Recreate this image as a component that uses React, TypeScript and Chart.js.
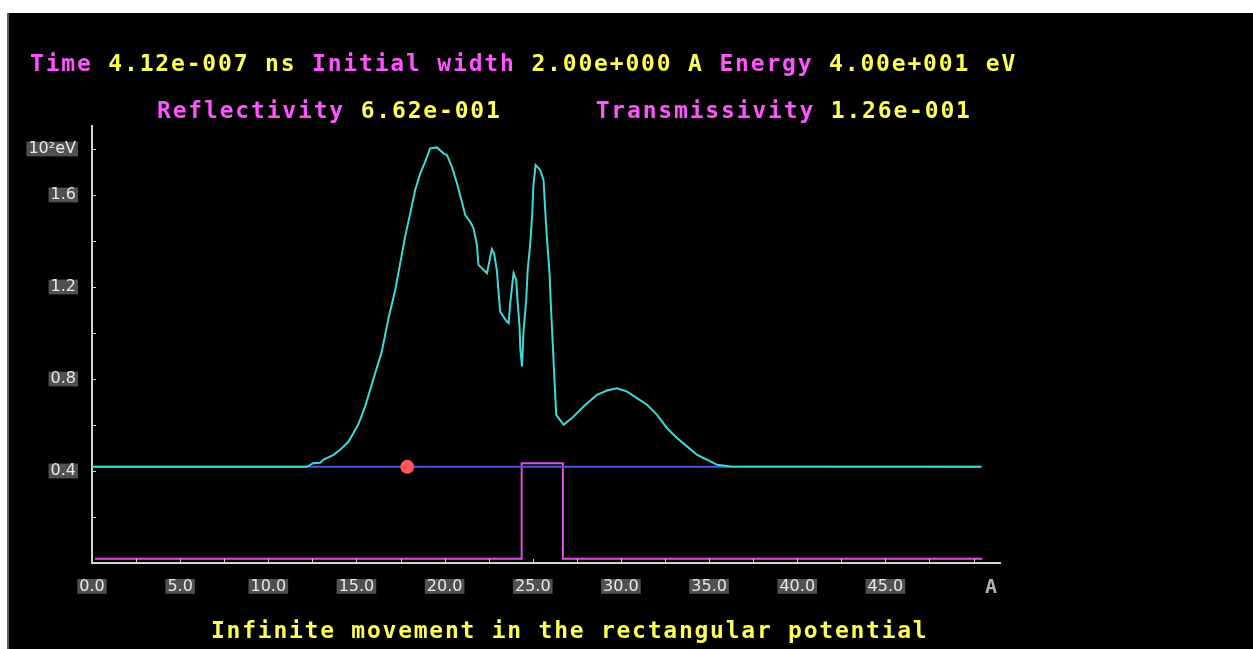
import { useEffect, useRef } from "react";
import { Chart, registerables } from "chart.js";

Chart.register(...registerables);

// Wave packet |psi|^2 drawn on top of the energy level (units of 10^2 eV), position in A
const waveX = [
  0, 12.19, 12.54, 12.94, 13.11, 13.7, 14.07, 14.55, 14.83, 15.11,
  15.49, 16.06, 16.44, 16.82, 17.2, 17.48, 17.76, 18.05, 18.33, 18.62,
  18.9, 19.18, 19.56, 19.94, 20.13, 20.41, 20.7, 20.98, 21.17, 21.45,
  21.64, 21.83, 21.92, 22.4, 22.59, 22.68, 22.81, 22.96, 23.15, 23.53,
  23.63, 23.72, 23.91, 24.06, 24.14, 24.25, 24.29, 24.39, 24.48, 24.63,
  24.71, 24.86, 24.97, 25.04, 25.16, 25.42, 25.61, 25.71, 25.81, 25.95,
  26.03, 26.14, 26.24, 26.33, 26.75, 27.22, 27.88, 28.64, 29.21, 29.78,
  30.35, 30.91, 31.48, 32.05, 32.62, 33.18, 33.75, 34.32, 34.89, 35.45,
  36.21, 50.45,
];
const waveY = [
  0.418, 0.418, 0.434, 0.436, 0.449, 0.47, 0.492, 0.528, 0.565, 0.604,
  0.68, 0.825, 0.92, 1.065, 1.187, 1.303, 1.419, 1.52, 1.622, 1.694,
  1.745, 1.803, 1.807, 1.781, 1.774, 1.723, 1.651, 1.571, 1.513, 1.484,
  1.455, 1.383, 1.296, 1.26, 1.332, 1.364, 1.344, 1.274, 1.093, 1.05,
  1.043, 1.129, 1.26, 1.231, 1.136, 1.028, 0.934, 0.854, 1.013, 1.144,
  1.274, 1.39, 1.52, 1.643, 1.73, 1.709, 1.665, 1.527, 1.404, 1.26,
  1.115, 0.941, 0.782, 0.644, 0.601, 0.63, 0.68, 0.731, 0.75, 0.76,
  0.745, 0.717, 0.688, 0.644, 0.586, 0.543, 0.507, 0.47, 0.449, 0.427,
  0.42, 0.418,
];

// Rectangular potential barrier
const potentialX = [0.17, 24.37, 24.37, 26.71, 26.71, 50.5];
const potentialY = [0.019, 0.019, 0.434, 0.434, 0.019, 0.019];

// Energy level line
const energyX = [0, 50.45];
const energyY = [0.418, 0.418];

// Classical particle position
const particleX = [17.88];
const particleY = [0.418];

// Axis labels and tick marks
const xLabelValues = [0, 5, 10, 15, 20, 25, 30, 35, 40, 45];
const xLabelTexts = ["0.0", "5.0", "10.0", "15.0", "20.0", "25.0", "30.0", "35.0", "40.0", "45.0"];
const xTickMarks = [2.5, 5, 7.5, 10, 12.5, 15, 17.5, 20, 22.5, 25, 27.5, 30, 32.5, 35, 37.5, 40, 42.5, 45, 47.5, 50];
const yLabelValues = [0.4, 0.8, 1.2, 1.6, 1.8];
const yLabelTexts = ["0.4", "0.8", "1.2", "1.6", "10²eV"];
const yTickMarks = [0.2, 0.4, 0.6, 0.8, 1.0, 1.2, 1.4, 1.6, 1.8];

const pts = (xs: number[], ys: number[]) => xs.map((x, i) => ({ x, y: ys[i] }));

const MAGENTA = "#ff55ff";
const YELLOW = "#ffff55";

const tickMarksPlugin = {
  id: "innerTickMarks",
  afterDraw(chart: any) {
    const { ctx, chartArea, scales } = chart;
    ctx.save();
    ctx.strokeStyle = "#d4d4d4";
    ctx.lineWidth = 1;
    ctx.beginPath();
    xTickMarks.forEach((v) => {
      const px = Math.round(scales.x.getPixelForValue(v)) + 0.5;
      ctx.moveTo(px, chartArea.bottom - 4);
      ctx.lineTo(px, chartArea.bottom);
    });
    yTickMarks.forEach((v) => {
      const py = Math.round(scales.y.getPixelForValue(v)) + 0.5;
      ctx.moveTo(chartArea.left, py);
      ctx.lineTo(chartArea.left + 4, py);
    });
    ctx.stroke();
    ctx.restore();
  },
};

const textBase: React.CSSProperties = {
  position: "absolute",
  fontFamily: "'DejaVu Sans Mono', monospace",
  fontWeight: "bold",
  fontSize: 23,
  lineHeight: "23px",
  letterSpacing: "1.82px",
  whiteSpace: "pre",
  margin: 0,
};

export default function App() {
  const canvasRef = useRef<HTMLCanvasElement | null>(null);

  useEffect(() => {
    if (!canvasRef.current) return;
    const tickFont = { family: "'DejaVu Sans', sans-serif", size: 16, lineHeight: 0.8 };
    const backdrop = { top: 1, bottom: 1, left: 2, right: 2 };
    const chart = new Chart(canvasRef.current, {
      type: "line",
      data: {
        datasets: [
          {
            label: "particle",
            data: pts(particleX, particleY),
            showLine: false,
            pointRadius: 7,
            pointBackgroundColor: "#ff5757",
            pointBorderWidth: 0,
            order: 0,
          },
          {
            label: "wave",
            data: pts(waveX, waveY),
            borderColor: "#3dd8d8",
            borderWidth: 2,
            pointRadius: 0,
            tension: 0,
            order: 1,
          },
          {
            label: "energy",
            data: pts(energyX, energyY),
            borderColor: "#5252dc",
            borderWidth: 2,
            pointRadius: 0,
            order: 2,
          },
          {
            label: "potential",
            data: pts(potentialX, potentialY),
            borderColor: "#dd50dd",
            borderWidth: 2,
            pointRadius: 0,
            order: 3,
          },
        ],
      },
      options: {
        animation: false,
        responsive: false,
        events: [],
        layout: { padding: { left: 0, top: 113, right: 253, bottom: 0 } },
        plugins: {
          legend: { display: false },
          tooltip: { enabled: false },
          title: { display: false },
        },
        scales: {
          x: {
            type: "linear",
            min: 0,
            max: 51.5,
            grid: { display: false },
            border: { display: true, color: "#d4d4d4", width: 2 },
            afterBuildTicks: (s: any) => {
              s.ticks = xLabelValues.map((value) => ({ value }));
            },
            afterFit: (s: any) => {
              s.height = 86;
            },
            ticks: {
              autoSkip: false,
              maxRotation: 0,
              padding: 9,
              color: "#e8e8e8",
              font: tickFont,
              showLabelBackdrop: true,
              backdropColor: "#505050",
              backdropPadding: backdrop,
              callback: (_v: any, i: number) => xLabelTexts[i],
            },
          },
          y: {
            type: "linear",
            min: 0,
            max: 1.9,
            grid: { display: false },
            border: { display: true, color: "#d4d4d4", width: 2 },
            afterBuildTicks: (s: any) => {
              s.ticks = yLabelValues.map((value) => ({ value }));
            },
            afterFit: (s: any) => {
              s.width = 83;
            },
            ticks: {
              autoSkip: false,
              padding: 8,
              color: "#e8e8e8",
              font: tickFont,
              showLabelBackdrop: true,
              backdropColor: "#505050",
              backdropPadding: backdrop,
              callback: (_v: any, i: number) => yLabelTexts[i],
            },
          },
        },
      } as any,
      plugins: [tickMarksPlugin],
    });
    return () => chart.destroy();
  }, []);

  return (
    <div
      style={{
        position: "fixed",
        left: 0,
        top: 0,
        width: 1253,
        height: 649,
        background: "#ffffff",
        overflow: "hidden",
      }}
    >
      <div
        style={{
          position: "absolute",
          left: 7,
          top: 13,
          width: 1246,
          height: 636,
          background: "#000000",
          borderLeft: "2px solid #58606a",
          boxSizing: "border-box",
        }}
      />
      <canvas
        ref={canvasRef}
        width={1244}
        height={636}
        style={{ position: "absolute", left: 9, top: 13, width: 1244, height: 636 }}
      />
      <div style={{ ...textBase, left: 30, top: 52 }}>
        <span style={{ color: MAGENTA }}>Time </span>
        <span style={{ color: YELLOW }}>4.12e-007 ns </span>
        <span style={{ color: MAGENTA }}>Initial width </span>
        <span style={{ color: YELLOW }}>2.00e+000 A </span>
        <span style={{ color: MAGENTA }}>Energy </span>
        <span style={{ color: YELLOW }}>4.00e+001 eV</span>
      </div>
      <div style={{ ...textBase, left: 157, top: 99 }}>
        <span style={{ color: MAGENTA }}>Reflectivity </span>
        <span style={{ color: YELLOW }}>6.62e-001      </span>
        <span style={{ color: MAGENTA }}>Transmissivity </span>
        <span style={{ color: YELLOW }}>1.26e-001</span>
      </div>
      <div
        style={{
          ...textBase,
          left: 985,
          top: 576,
          fontSize: 20,
          lineHeight: "20px",
          letterSpacing: "0px",
          color: "#b0b0b0",
        }}
      >
        A
      </div>
      <div style={{ ...textBase, left: 211, top: 619, color: YELLOW, letterSpacing: "1.75px" }}>
        Infinite movement in the rectangular potential
      </div>
    </div>
  );
}
